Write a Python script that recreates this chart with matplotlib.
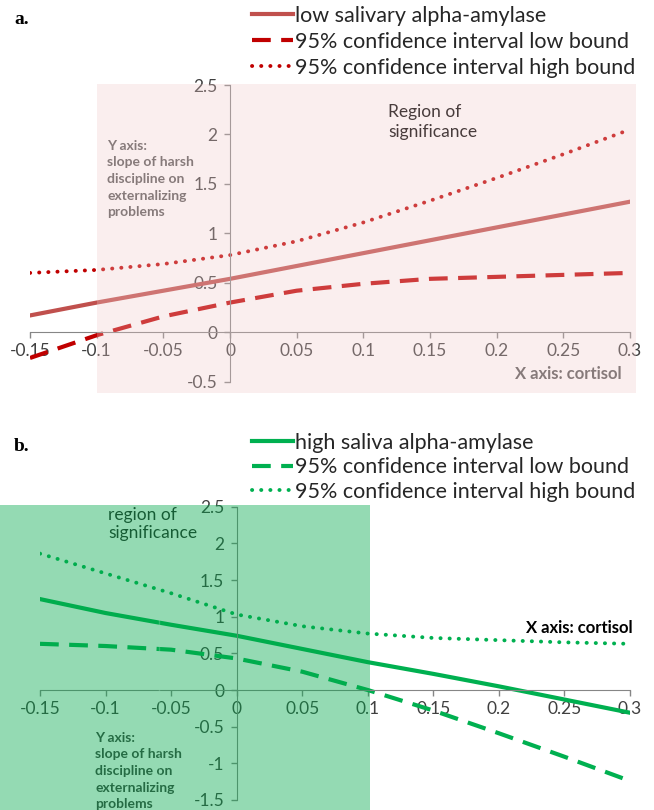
import matplotlib
matplotlib.use("Agg")
import matplotlib.pyplot as plt
from matplotlib.patches import Rectangle

# cortisol values along the x axis
cortisol = [-0.15, -0.1, -0.05, 0, 0.05, 0.1, 0.15, 0.2, 0.25, 0.3]

# panel a: low salivary alpha-amylase
a_slope = [0.17, 0.30, 0.42, 0.54, 0.67, 0.80, 0.93, 1.06, 1.19, 1.32]
a_low = [-0.26, -0.03, 0.16, 0.30, 0.42, 0.49, 0.54, 0.56, 0.58, 0.60]
a_high = [0.60, 0.63, 0.69, 0.78, 0.92, 1.11, 1.33, 1.56, 1.80, 2.05]

# panel b: high saliva alpha-amylase
b_slope = [1.24, 1.05, 0.89, 0.74, 0.56, 0.38, 0.22, 0.05, -0.13, -0.31]
b_low = [0.63, 0.60, 0.55, 0.43, 0.25, 0.0, -0.28, -0.59, -0.91, -1.24]
b_high = [1.86, 1.59, 1.32, 1.03, 0.87, 0.77, 0.71, 0.68, 0.65, 0.63]

x_ticks = [-0.15, -0.1, -0.05, 0, 0.05, 0.1, 0.15, 0.2, 0.25, 0.3]
x_labels = ["-0.15", "-0.1", "-0.05", "0", "0.05", "0.1", "0.15", "0.2", "0.25", "0.3"]
a_yticks = [-0.5, 0, 0.5, 1, 1.5, 2, 2.5]
a_ylabels = ["-0.5", "0", "0.5", "1", "1.5", "2", "2.5"]
b_yticks = [-1.5, -1, -0.5, 0, 0.5, 1, 1.5, 2, 2.5]
b_ylabels = ["-1.5", "-1", "-0.5", "0", "0.5", "1", "1.5", "2", "2.5"]

W, H = 654, 810
plt.rcParams["font.family"] = ["Lato", "DejaVu Sans"]
fig = plt.figure(figsize=(W / 100, H / 100), dpi=100)


def fx(p):
    return p / W


def fy(p):
    return 1 - p / H


def style(ax, yticks, ylabels):
    ax.set_xlim(-0.15, 0.3)
    ax.set_ylim(yticks[0], yticks[-1])
    ax.patch.set_alpha(0)
    for s in ["top", "right"]:
        ax.spines[s].set_visible(False)
    for s in ["left", "bottom"]:
        ax.spines[s].set_position(("data", 0))
        ax.spines[s].set_color("#868686")
    ax.set_xticks(x_ticks)
    ax.set_xticklabels(x_labels)
    ax.set_yticks(yticks)
    ax.set_yticklabels(ylabels)
    ax.tick_params(color="#868686", labelcolor="#404040", labelsize=12.5,
                   length=4, width=1)
    ax.tick_params(axis="x", pad=4)
    ax.tick_params(axis="y", pad=5)


note = "Y axis:\nslope of harsh\ndiscipline on\nexternalizing\nproblems"

# ---- panel a ----
ax_a = fig.add_axes([fx(30), fy(381.7), 600 / W, 296.7 / H])
style(ax_a, a_yticks, a_ylabels)
la1, = ax_a.plot(cortisol, a_slope, color="#c0504d", lw=3)
la2, = ax_a.plot(cortisol, a_low, color="#c00000", lw=3, linestyle=(0, (4.5, 2.5)))
la3, = ax_a.plot(cortisol, a_high, color="#c00000", lw=2.8,
                 linestyle=(0, (0.05, 2.3)), dash_capstyle="round")
ax_a.add_patch(Rectangle((-0.1, -0.61), 0.4045, 3.12, facecolor="#f0c8c8",
                         edgecolor="none", alpha=0.3, zorder=10, clip_on=False))
ax_a.text(fx(388), fy(122), "Region of\nsignificance", transform=fig.transFigure,
          fontsize=12.5, va="center", ha="left", color="black", linespacing=1.3)
ax_a.text(fx(107), fy(179), note, transform=fig.transFigure, fontsize=10,
          fontweight="bold", color="#595959", va="center", ha="left", linespacing=1.45)
ax_a.text(fx(622), fy(374), "X axis: cortisol", transform=fig.transFigure,
          fontsize=12, fontweight="bold", color="#595959", ha="right", va="center")

fig.legend([la1, la2, la3],
           ["low salivary alpha-amylase", "95% confidence interval low bound",
            "95% confidence interval high bound"],
           loc="upper left", bbox_to_anchor=(fx(252), fy(6)), frameon=False,
           fontsize=15.5, handlelength=1.9, handletextpad=0.1, labelspacing=0.27,
           borderpad=0, borderaxespad=0, labelcolor="#262626")

# ---- panel b ----
ax_b = fig.add_axes([fx(40), fy(800), 590 / W, 293.3 / H])
style(ax_b, b_yticks, b_ylabels)
lb1, = ax_b.plot(cortisol, b_slope, color="#00b050", lw=3)
lb2, = ax_b.plot(cortisol, b_low, color="#00b050", lw=3, linestyle=(0, (4.5, 2.5)))
lb3, = ax_b.plot(cortisol, b_high, color="#00b050", lw=2.8,
                 linestyle=(0, (0.05, 2.3)), dash_capstyle="round")
ax_b.axvline(-0.059, color="white", lw=1, alpha=0.35, zorder=9)
ax_b.add_patch(Rectangle((-0.1805, -1.7), 0.282, 4.23, facecolor="#00a94a",
                         edgecolor="none", alpha=0.42, zorder=10, clip_on=False))
ax_b.text(fx(108), fy(524), "region of\nsignificance", transform=fig.transFigure,
          fontsize=12.5, va="center", ha="left", color="#262626", linespacing=1.15)
ax_b.text(fx(95), fy(771), note, transform=fig.transFigure, fontsize=10,
          fontweight="bold", color="#404040", va="center", ha="left", linespacing=1.45)
ax_b.text(fx(633), fy(628), "X axis: cortisol", transform=fig.transFigure,
          fontsize=12, fontweight="bold", color="black", ha="right", va="center")

fig.legend([lb1, lb2, lb3],
           ["high saliva alpha-amylase", "95% confidence interval low bound",
            "95% confidence interval high bound"],
           loc="upper left", bbox_to_anchor=(fx(252), fy(433)), frameon=False,
           fontsize=15.5, handlelength=1.9, handletextpad=0.1, labelspacing=0.2,
           borderpad=0, borderaxespad=0, labelcolor="#262626")

fig.text(fx(14), fy(20), "a.", fontfamily="Liberation Serif", fontweight="bold",
         fontsize=14, va="center", ha="left")
fig.text(fx(14), fy(447), "b.", fontfamily="Liberation Serif", fontweight="bold",
         fontsize=14, va="center", ha="left")

fig.savefig("out.png", dpi=100)
